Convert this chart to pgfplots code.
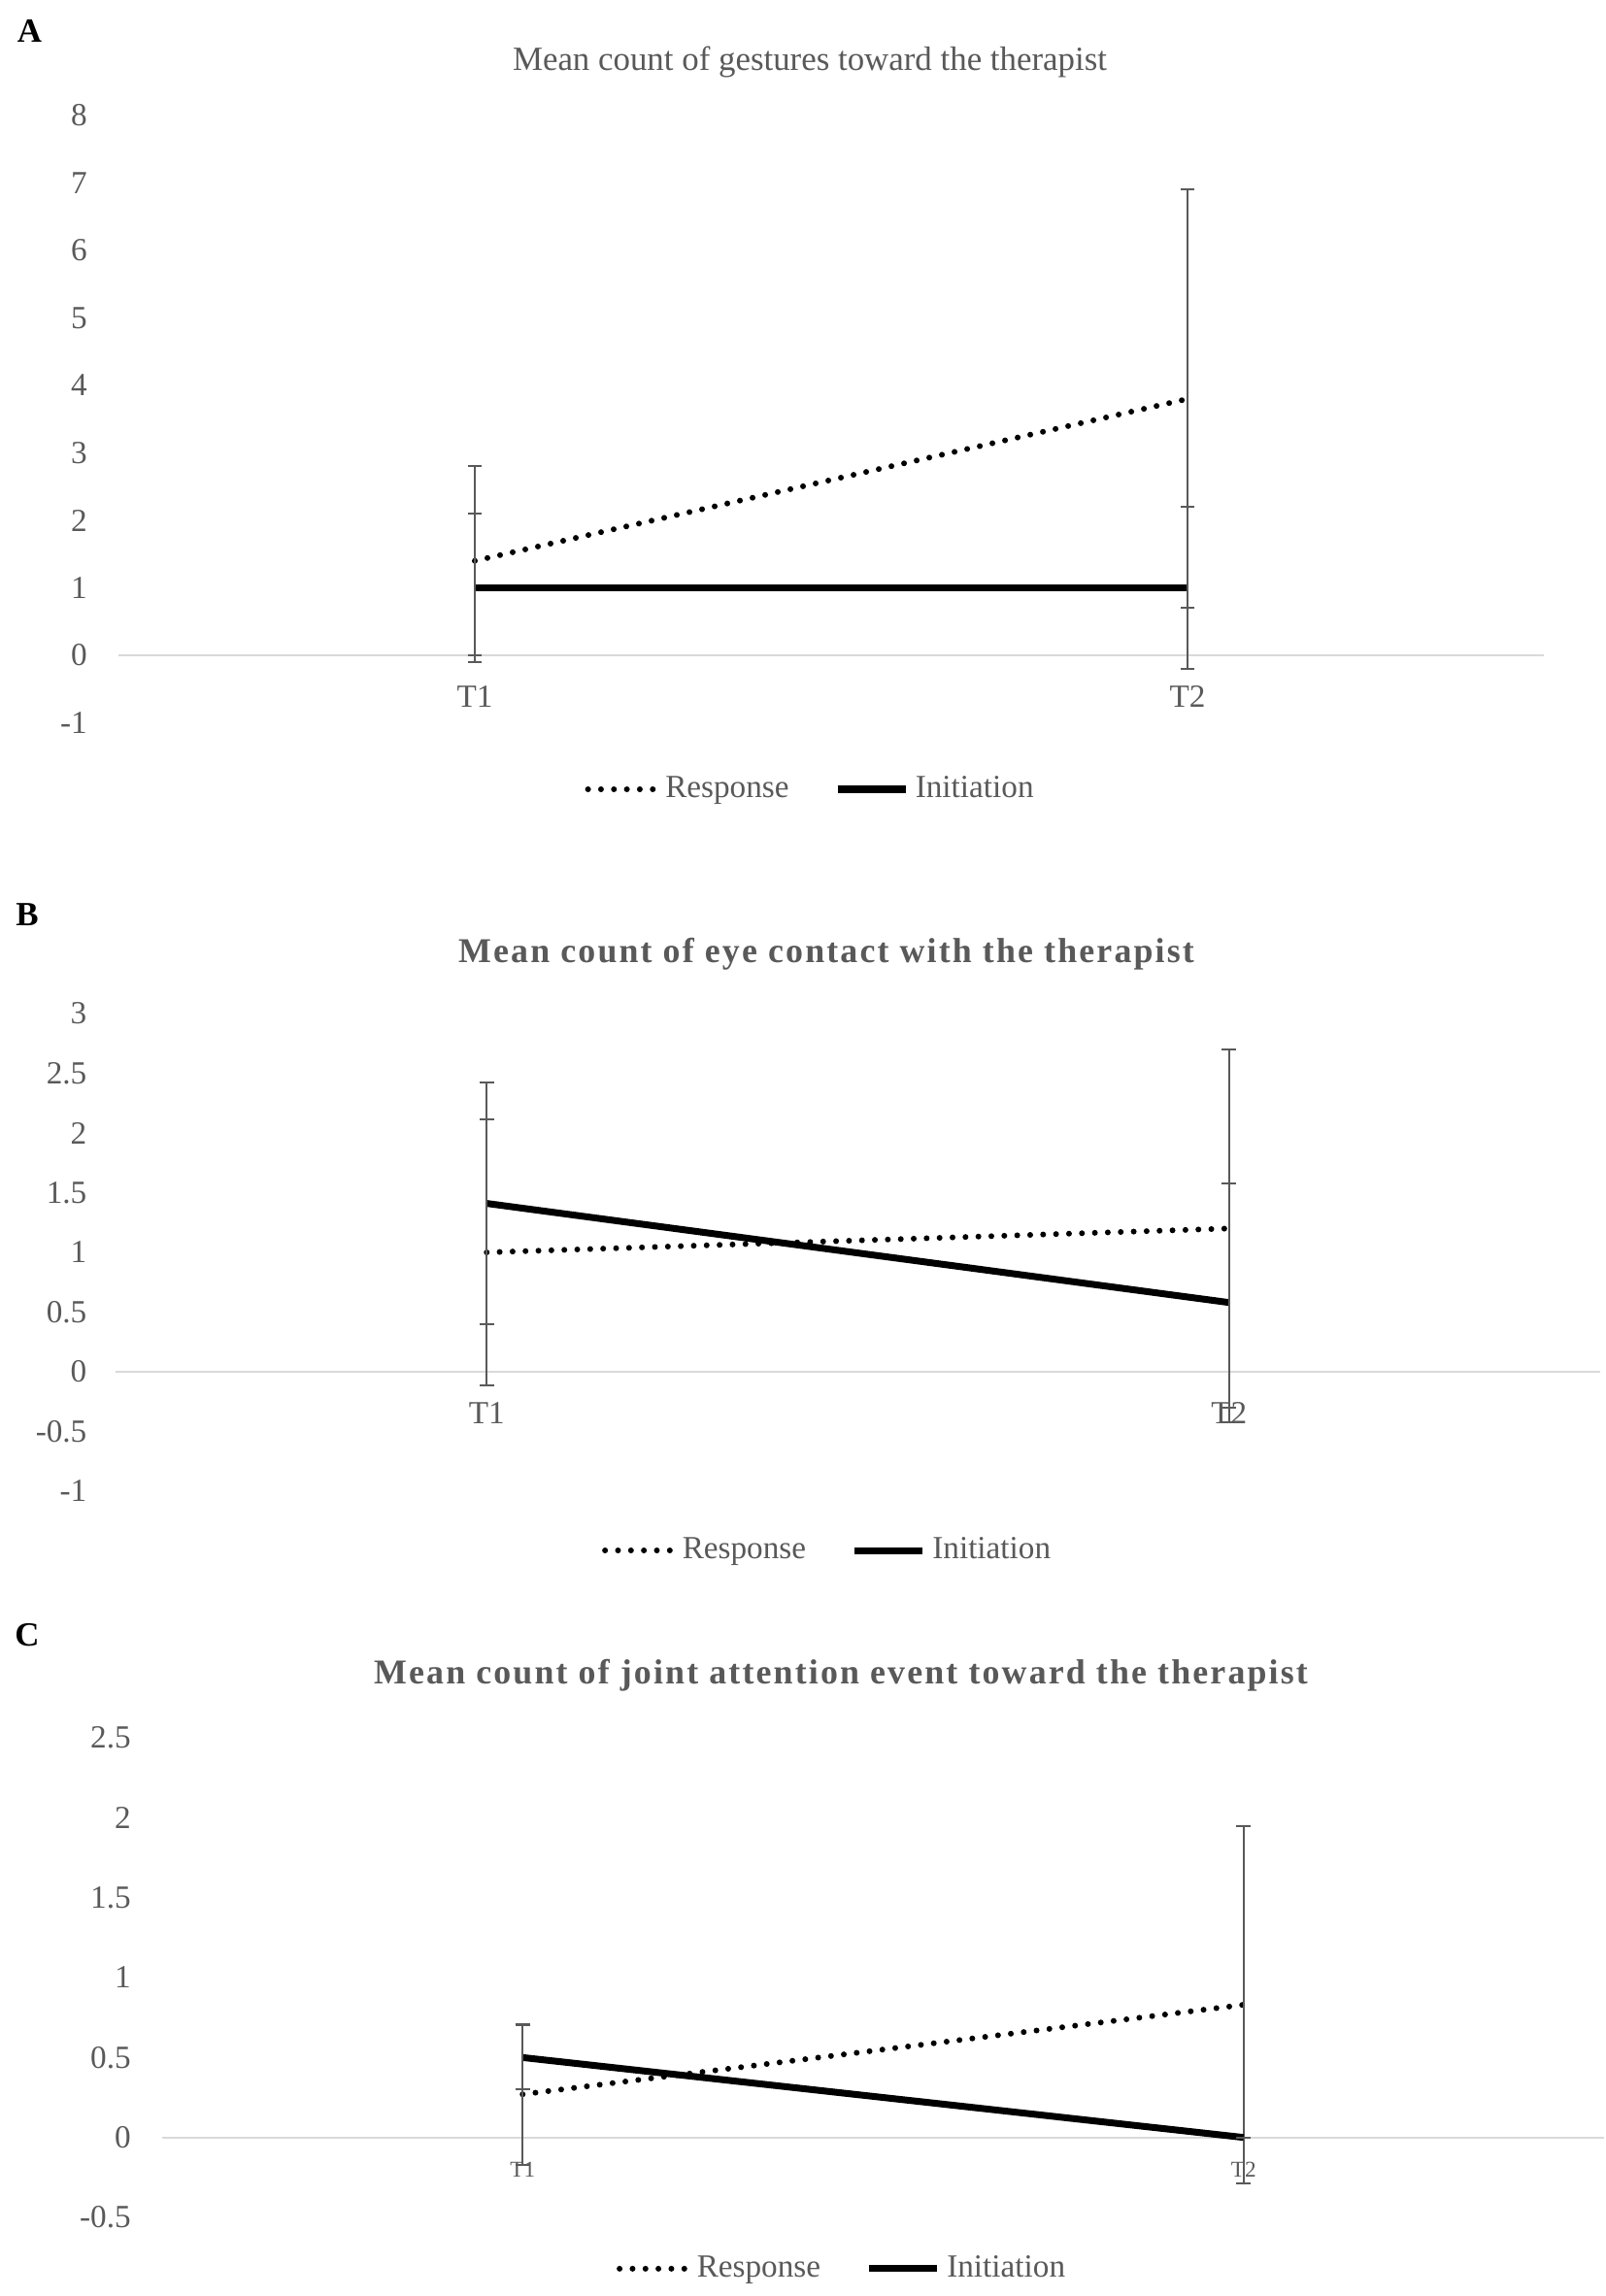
\documentclass[border=0pt]{standalone}
\usepackage{fontspec}
\setmainfont{Liberation Serif}
\newfontfamily\titlefont[LetterSpace=6]{Liberation Serif}
\usepackage{pgfplots}
\pgfplotsset{compat=1.18}
\definecolor{txt}{HTML}{595959}
\definecolor{zline}{HTML}{D9D9D9}
\definecolor{ebar}{HTML}{595959}

\pgfplotsset{
 panel/.style={
   scale only axis, clip=false,
   xmin=0.5, xmax=2.5, xtick={1,2}, xticklabels={T1,T2},
   axis x line=middle, axis y line=left,
   x axis line style={-, draw=zline, line width=0.5bp},
   y axis line style={draw=none},
   major tick length=0pt,
   hide obscured x ticks=false, hide obscured y ticks=false,
   /pgf/number format/assume math mode=true,
   ticklabel style={font=\fontsize{10}{12}\selectfont, text=txt},
   yticklabel style={anchor=east, inner sep=0pt, xshift=-9.5bp},
   xticklabel style={anchor=base, inner sep=0pt, yshift=-16bp},
   legend columns=2,
   legend style={draw=none, fill=none, font=\fontsize{10}{12}\selectfont, text=txt,
     /tikz/every even column/.append style={column sep=12bp}},
   legend image code/.code={\draw[##1] (0bp,0bp) -- (21bp,0bp);},
   error bars/y dir=both, error bars/y explicit,
   error bars/error mark=-,
   error bars/error bar style={ebar, line width=0.6bp, solid},
   error bars/error mark options={ebar, line width=0.6bp, solid, mark size=2.2bp, rotate=90},
 },
 resp/.style={black, line width=1.8bp, line cap=round, dash pattern=on 0bp off 4bp},
 init/.style={black, line width=2.1bp},
}

\begin{document}
\begin{tikzpicture}
\useasboundingbox (0,0) rectangle (496.2bp,-709.5bp);

% ---------- Panel A ----------
\node[font=\bfseries\fontsize{10.5}{12}\selectfont] at (9.15bp,-9.45bp) {A};
\node[font=\fontsize{10.5}{12}\selectfont, text=txt] at (250.2bp,-19.2bp) {Mean count of gestures toward the therapist};
\begin{axis}[panel, at={(36.6bp,-223.35bp)}, anchor=south west,
  width=440.4bp, height=187.65bp, ymin=-1, ymax=8,
  ytick={-1,0,1,2,3,4,5,6,7,8},
  legend style={at={(0.487,-0.1095)}, anchor=center}]
\addplot[resp] coordinates {(1,1.4) +- (0,1.4) (2,3.8) +- (0,3.1)};
\addlegendentry{Response}
\addplot[init] coordinates {(1,1.0) +- (0,1.1) (2,1.0) +- (0,1.2)};
\addlegendentry{Initiation}
\end{axis}

% ---------- Panel B ----------
\node[font=\bfseries\fontsize{10.5}{12}\selectfont] at (8.4bp,-282.6bp) {B};
\node[font=\titlefont\bfseries\fontsize{10.8}{13}\selectfont, text=txt] at (255.3bp,-294.9bp) {Mean count of eye contact with the therapist};
\begin{axis}[panel, at={(35.7bp,-460.8bp)}, anchor=south west,
  width=458.7bp, height=147.6bp, ymin=-1, ymax=3,
  ytick={-1,-0.5,0,0.5,1,1.5,2,2.5,3},
  yticklabel style={xshift=0.8bp},
  legend style={at={(0.481,-0.124)}, anchor=center}]
\addplot[resp] coordinates {(1,1.0) +- (0,1.11) (2,1.2) +- (0,1.5)};
\addlegendentry{Response}
\addplot[init] coordinates {(1,1.41) +- (0,1.01) (2,0.58) +- (0,1.0)};
\addlegendentry{Initiation}
\end{axis}

% ---------- Panel C ----------
\node[font=\bfseries\fontsize{10.5}{12}\selectfont] at (8.4bp,-505.2bp) {C};
\node[font=\titlefont\bfseries\fontsize{10.8}{13}\selectfont, text=txt] at (259.8bp,-517.8bp) {Mean count of joint attention event toward the therapist};
\begin{axis}[panel, at={(50.1bp,-685.2bp)}, anchor=south west,
  width=445.5bp, height=148.2bp, ymin=-0.5, ymax=2.5,
  ytick={-0.5,0,0.5,1,1.5,2,2.5},
  xticklabel style={font=\fontsize{7}{8}\selectfont, yshift=3.7bp},
  legend style={at={(0.473,-0.107)}, anchor=center}]
\addplot[resp] coordinates {(1,0.27) +- (0,0.44) (2,0.83) +- (0,1.12)};
\addlegendentry{Response}
\addplot[init] coordinates {(1,0.5) +- (0,0.2) (2,0.0) +- (0,0.0)};
\addlegendentry{Initiation}
\end{axis}
\end{tikzpicture}
\end{document}
